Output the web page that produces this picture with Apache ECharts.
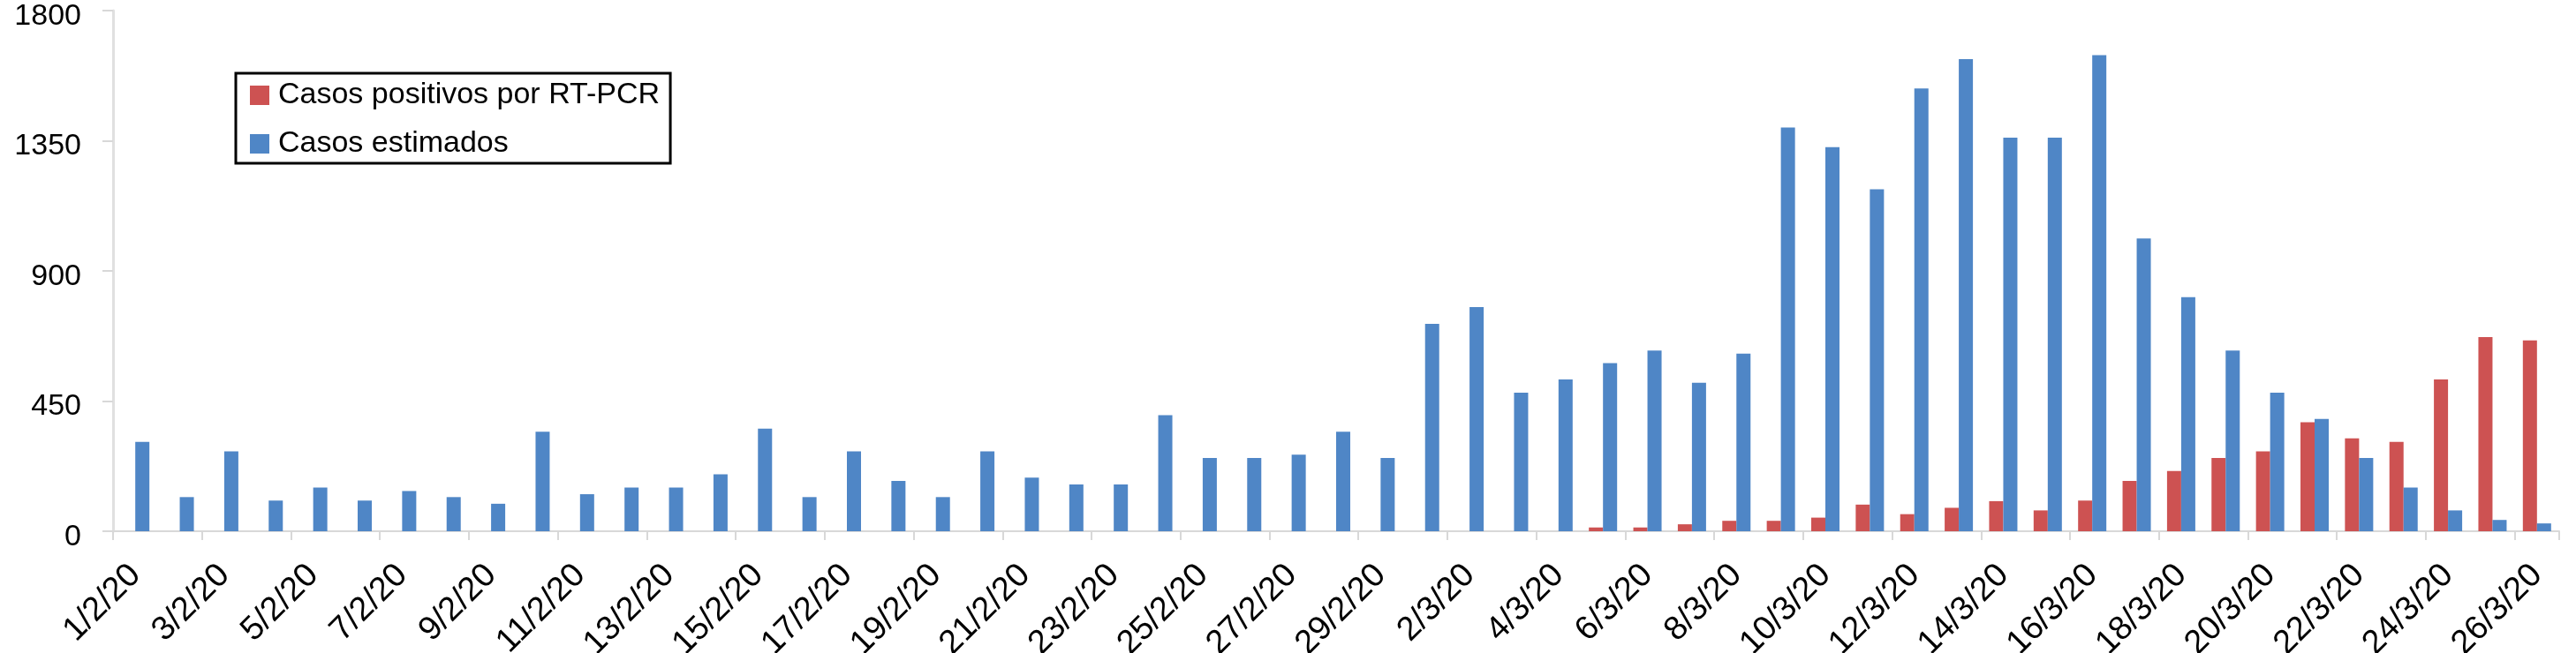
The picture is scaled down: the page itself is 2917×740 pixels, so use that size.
<!DOCTYPE html>
<html>
<head>
<meta charset="utf-8">
<script src="https://cdn.jsdelivr.net/npm/echarts@6/dist/echarts.min.js"></script>
<style>
html,body{margin:0;padding:0;background:#fff;}
#chart{width:2917px;height:740px;}
</style>
</head>
<body>
<div id="chart"></div>
<script>
const categories = [
  '1/2/20','2/2/20','3/2/20','4/2/20','5/2/20','6/2/20','7/2/20','8/2/20','9/2/20','10/2/20',
  '11/2/20','12/2/20','13/2/20','14/2/20','15/2/20','16/2/20','17/2/20','18/2/20','19/2/20','20/2/20',
  '21/2/20','22/2/20','23/2/20','24/2/20','25/2/20','26/2/20','27/2/20','28/2/20','29/2/20',
  '1/3/20','2/3/20','3/3/20','4/3/20','5/3/20','6/3/20','7/3/20','8/3/20','9/3/20','10/3/20',
  '11/3/20','12/3/20','13/3/20','14/3/20','15/3/20','16/3/20','17/3/20','18/3/20','19/3/20','20/3/20',
  '21/3/20','22/3/20','23/3/20','24/3/20','25/3/20','26/3/20'
];
const casosPositivos = [
  0,0,0,0,0,0,0,0,0,0,
  0,0,0,0,0,0,0,0,0,0,
  0,0,0,0,0,0,0,0,0,
  0,0,0,0,13,13,24,36,36,47,
  92,59,81,104,72,106,174,208,253,276,
  377,321,309,525,671,660
];
const casosEstimados = [
  309,118,276,106,151,106,139,118,95,344,
  128,151,151,197,355,118,276,174,118,276,
  185,162,162,401,253,253,265,344,253,
  717,775,479,525,581,625,513,614,1396,1328,
  1182,1531,1632,1361,1361,1646,1012,809,625,479,
  388,253,151,72,39,27
];
const yTicks = [0, 450, 900, 1350, 1800];

const chart = echarts.init(document.getElementById('chart'));
const font = 'Liberation Sans, Arial, Helvetica, sans-serif';
chart.setOption({
  animation: false,
  textStyle: { fontFamily: font },
  grid: { left: 128, right: 19, top: 12, bottom: 138, containLabel: false, outerBoundsMode: 'none' },
  legend: {
    orient: 'vertical',
    left: 267, top: 83,
    borderColor: '#000', borderWidth: 3,
    padding: [8, 12, 5, 16],
    icon: 'rect',
    itemWidth: 22, itemHeight: 22, itemGap: 21,
    textStyle: { fontSize: 34, color: '#000', fontFamily: font, padding: [0, 0, 0, 5] },
    data: ['Casos positivos por RT-PCR', 'Casos estimados']
  },
  xAxis: {
    type: 'category',
    data: categories,
    axisLine: { lineStyle: { color: '#d8d8d8', width: 2 } },
    axisTick: { show: true, interval: 1, length: 10, lineStyle: { color: '#d8d8d8', width: 2 } },
    axisLabel: { interval: 1, rotate: 45, fontSize: 38, color: '#000', margin: 44, fontFamily: font },
    splitLine: { show: false }
  },
  yAxis: {
    type: 'value',
    min: yTicks[0], max: yTicks[yTicks.length - 1], interval: 450,
    axisLine: { show: true, lineStyle: { color: '#e0e0e0', width: 3 } },
    axisTick: { show: true, length: 12, lineStyle: { color: '#d8d8d8', width: 2 } },
    axisLabel: {
      color: '#000', margin: 36,
      formatter: function (v) { return '{a|' + v + '}'; },
      rich: { a: { fontSize: 34, color: '#000', fontFamily: font, padding: [13, 0, 0, 0] } }
    },
    splitLine: { show: false }
  },
  series: [
    {
      name: 'Casos positivos por RT-PCR',
      type: 'bar',
      data: casosPositivos,
      barWidth: 16,
      barGap: '0%',
      itemStyle: { color: '#cd5252' }
    },
    {
      name: 'Casos estimados',
      type: 'bar',
      data: casosEstimados,
      barWidth: 16,
      barGap: '0%',
      itemStyle: { color: '#4f86c6' }
    }
  ]
});
</script>
</body>
</html>
